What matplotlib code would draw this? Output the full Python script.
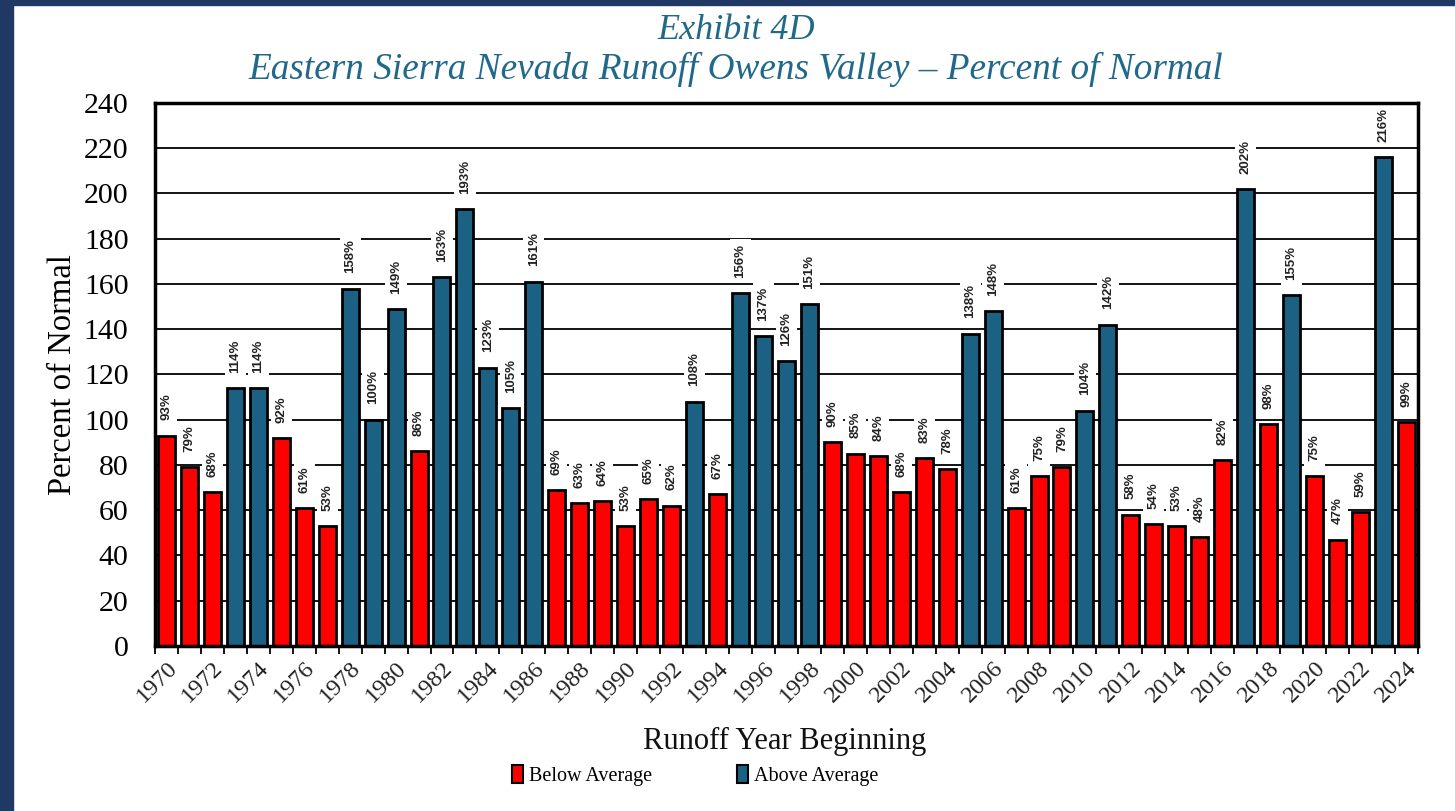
"""
Eastern Sierra Nevada runoff, Owens Valley - percent of normal by runoff year.
"""

import matplotlib.pyplot as plt
from matplotlib.patches import Patch, Rectangle

RED = "#FF0000"
BLUE = "#1B6183"
TITLE_BLUE = "#21698A"
NAVY = "#1F3864"
SERIF = "Liberation Serif"

years = list(range(1970, 2025))
pct_normal = [
    93, 79, 68, 114, 114, 92, 61, 53, 158, 100,
    149, 86, 163, 193, 123, 105, 161, 69, 63, 64,
    53, 65, 62, 108, 67, 156, 137, 126, 151, 90,
    85, 84, 68, 83, 78, 138, 148, 61, 75, 79,
    104, 142, 58, 54, 53, 48, 82, 202, 98, 155,
    75, 47, 59, 216, 99,
]
y_ticks = list(range(0, 241, 20))


def main():
    fig = plt.figure(figsize=(14.55, 8.11), dpi=100)
    ax = fig.add_axes([0.1065, 0.2035, 0.868, 0.6695])

    # navy frame along left and top edge
    fig.patches.append(Rectangle((0, 0), 13 / 1455, 1, transform=fig.transFigure,
                                 color=NAVY, zorder=0))
    fig.patches.append(Rectangle((0, 1 - 5 / 811), 1, 5 / 811, transform=fig.transFigure,
                                 color=NAVY, zorder=0))

    x = list(range(len(years)))
    colors = [BLUE if v >= 100 else RED for v in pct_normal]
    ax.bar(x, pct_normal, width=0.74, color=colors, edgecolor="black", linewidth=2, zorder=3)

    for xi, v in zip(x, pct_normal):
        ax.annotate(f"{v}%", (xi, v), xytext=(0, 11), textcoords="offset points",
                    rotation=90, ha="center", va="bottom", fontsize=9.5, fontweight="bold",
                    family="Liberation Sans", color="#222222", zorder=4,
                    bbox=dict(boxstyle="square,pad=0.35", fc="white", ec="none"))

    ax.set_xlim(-0.5, len(years) - 0.5)
    ax.set_ylim(0, 240)
    ax.set_yticks(y_ticks)
    ax.set_yticklabels([str(t) for t in y_ticks], fontsize=21.5, family=SERIF)
    ax.yaxis.grid(True, color="black", linewidth=1.3, zorder=1)
    ax.set_axisbelow(True)
    ax.tick_params(axis="y", length=0, pad=19)

    ax.set_xticks(x[::2])
    ax.set_xticklabels([str(y) for y in years[::2]], rotation=45, ha="right",
                       rotation_mode="anchor", fontsize=17.5, family=SERIF, color="#222222")
    ax.set_xticks([i - 0.5 for i in range(len(years) + 1)], minor=True)
    ax.tick_params(axis="x", which="major", length=0, pad=8)
    ax.tick_params(axis="x", which="minor", length=6, width=1.3, direction="out")

    for s in ax.spines.values():
        s.set_linewidth(2.5)
        s.set_zorder(5)

    ax.set_ylabel("Percent of Normal", fontsize=23.5, family=SERIF, labelpad=4)
    fig.text(0.5395, 0.086, "Runoff Year Beginning", ha="center", va="center",
             fontsize=22, family=SERIF, color="#111111")

    fig.text(0.506, 0.963, "Exhibit 4D", ha="center", va="center", fontsize=26,
             family=SERIF, style="italic", color=TITLE_BLUE)
    fig.text(0.506, 0.914, "Eastern Sierra Nevada Runoff Owens Valley \u2013 Percent of Normal",
             ha="center", va="center", fontsize=26.8, family=SERIF, style="italic",
             color=TITLE_BLUE)

    handles = [Patch(facecolor=RED, edgecolor="black", linewidth=1.5, label="Below Average"),
               Patch(facecolor=BLUE, edgecolor="black", linewidth=1.5, label="Above Average")]
    fig.legend(handles=handles, loc="center", bbox_to_anchor=(0.478, 0.044), ncol=2,
               frameon=False, prop={"family": SERIF, "size": 14.5},
               handlelength=0.55, handleheight=1.0, handletextpad=0.3, columnspacing=4.2)

    fig.savefig("out.png", dpi=100)


if __name__ == "__main__":
    main()
